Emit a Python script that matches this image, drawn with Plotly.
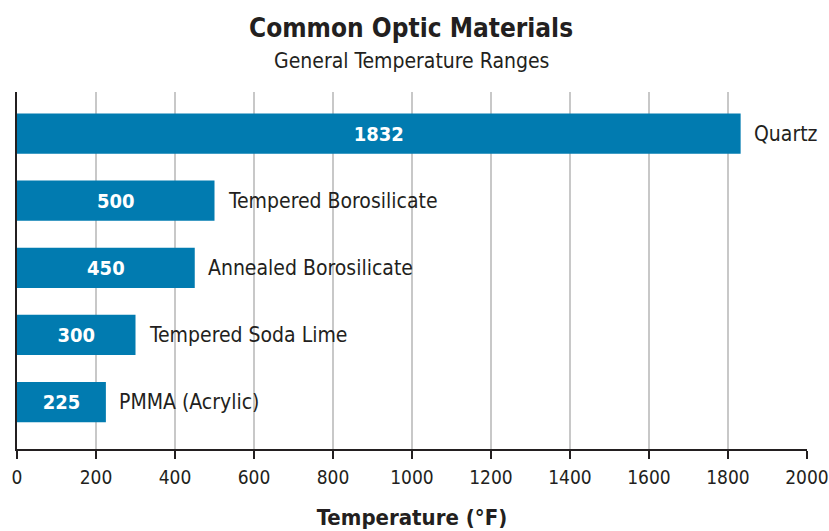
import plotly.graph_objects as go

materials = ["Quartz", "Tempered Borosilicate", "Annealed Borosilicate", "Tempered Soda Lime", "PMMA (Acrylic)"]
temps_f = [1832, 500, 450, 300, 225]
x_ticks = [0, 200, 400, 600, 800, 1000, 1200, 1400, 1600, 1800, 2000]

FONT = "DejaVu Sans Condensed, Liberation Sans Narrow, Roboto, sans-serif"
INK = "#231f20"
BAR = "#017bb0"

fig = go.Figure()
fig.add_trace(go.Bar(
    x=temps_f, y=materials, orientation="h",
    marker=dict(color=BAR, line=dict(width=0)),
    width=0.6,
    text=[str(v) for v in temps_f],
    textposition="inside", insidetextanchor="middle",
    textfont=dict(family=FONT, size=20, color="white", weight="bold"),
    hoverinfo="skip",
))

for m, v in zip(materials, temps_f):
    fig.add_annotation(x=v, y=m, text=m, showarrow=False, xanchor="left",
                       xshift=11, font=dict(family=FONT, size=21, color=INK))

fig.add_annotation(xref="paper", yref="paper", x=(411 - 17) / 790, y=1, yshift=92 - 28,
                   text="<b>Common Optic Materials</b>", showarrow=False,
                   xanchor="center", yanchor="middle",
                   font=dict(family=FONT, size=26, color=INK))
fig.add_annotation(xref="paper", yref="paper", x=(411 - 17) / 790, y=1, yshift=92 - 61,
                   text="General Temperature Ranges", showarrow=False,
                   xanchor="center", yanchor="middle",
                   font=dict(family=FONT, size=21, color=INK))

fig.update_layout(
    width=829, height=531,
    margin=dict(l=17, r=22, t=92, b=82),
    paper_bgcolor="white", plot_bgcolor="white",
    showlegend=False,
    xaxis=dict(
        range=[0, 2000], tickvals=x_ticks, ticktext=[str(t) for t in x_ticks],
        automargin=False,
        showgrid=True, gridcolor="#c8c8c8", gridwidth=1.5,
        showline=True, linecolor=INK, linewidth=1.5,
        ticks="outside", ticklen=8, tickcolor=INK, tickwidth=1.5,
        ticklabelstandoff=2,
        tickfont=dict(family=FONT, size=19, color=INK),
        zeroline=False,
        title=dict(text="<b>Temperature (°F)</b>", font=dict(family=FONT, size=22, color=INK), standoff=23),
    ),
    yaxis=dict(
        type="category", range=[4.7, -0.62], automargin=False,
        showticklabels=False, showgrid=False, ticks="",
        showline=True, linecolor=INK, linewidth=1.5,
    ),
)

fig.write_html("out.html", config={"displayModeBar": False},
               post_script="document.body.style.margin='0';")
